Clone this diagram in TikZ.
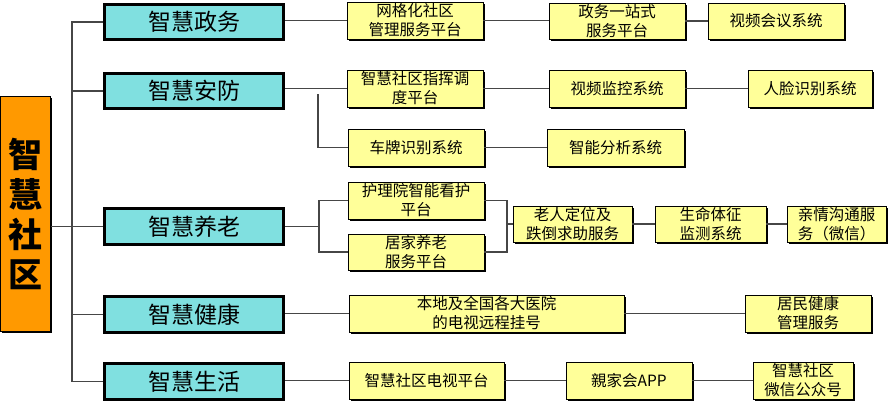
\documentclass[tikz,border=0pt]{standalone}
\usepackage{fontspec}
\usetikzlibrary{shadows}
\newfontfamily\cjk{Noto Sans CJK SC}
\definecolor{rootorange}{RGB}{255,153,0}
\definecolor{lvcyan}{RGB}{128,224,224}
\definecolor{lvyellow}{RGB}{255,255,153}
\definecolor{linkgray}{RGB}{70,70,70}
\tikzset{
  rootbox/.style={draw=black, line width=1pt, fill=rootorange, inner sep=0pt,
    drop shadow={shadow xshift=1.8pt, shadow yshift=-1.8pt, fill=black, opacity=1},
    font=\cjk\bfseries\fontsize{34}{40}\selectfont, align=center},
  catbox/.style={draw=black, line width=3pt, fill=lvcyan, inner sep=0pt,
    minimum width=179pt, minimum height=35.5pt,
    font=\cjk\fontsize{23}{26}\selectfont},
  itembox/.style={draw=black, line width=0.9pt, fill=lvyellow, inner sep=0pt,
    drop shadow={shadow xshift=1.6pt, shadow yshift=-1.6pt, fill=black, opacity=1},
    font=\cjk\fontsize{15.5}{19}\selectfont, align=center},
  link/.style={draw=linkgray, line width=1.1pt},
}
\begin{document}
\begin{tikzpicture}[x=1pt, y=-1pt]
\useasboundingbox (0,0) rectangle (890,402);
% root
\node[rootbox, minimum width=49.5pt, minimum height=234.5pt] (root) at (25.25,213.75) {智\\慧\\社\\区};
% categories
\node[catbox] (b1) at (194,22) {智慧政务};
\node[catbox] (b2) at (194,91) {智慧安防};
\node[catbox] (b3) at (194,226.5) {智慧养老};
\node[catbox] (b4) at (194,314.5) {智慧健康};
\node[catbox] (b5) at (194,381.5) {智慧生活};
% row 1
\node[itembox, minimum width=136pt, minimum height=37pt] (g1) at (415,20.5) {网格化社区\\管理服务平台};
\node[itembox, minimum width=136pt, minimum height=36pt] (g2) at (617,21) {政务一站式\\服务平台};
\node[itembox, minimum width=136pt, minimum height=36pt] (g3) at (776,21) {视频会议系统};
% row 2
\node[itembox, minimum width=136pt, minimum height=37pt] (a1) at (415,88.5) {智慧社区指挥调\\度平台};
\node[itembox, minimum width=136pt, minimum height=37pt] (a2) at (617,88.5) {视频监控系统};
\node[itembox, minimum width=124pt, minimum height=37pt] (a3) at (810,88.5) {人脸识别系统};
\node[itembox, minimum width=136pt, minimum height=37pt] (a4) at (416,147.5) {车牌识别系统};
\node[itembox, minimum width=137pt, minimum height=37pt] (a5) at (615.5,147.5) {智能分析系统};
% row 3
\node[itembox, minimum width=136pt, minimum height=37pt] (y1) at (416,200.5) {护理院智能看护\\平台};
\node[itembox, minimum width=136pt, minimum height=36pt] (y2) at (416,252) {居家养老\\服务平台};
\node[itembox, minimum width=119pt, minimum height=36pt] (y3) at (572.5,224) {老人定位及\\跌倒求助服务};
\node[itembox, minimum width=111pt, minimum height=36pt] (y4) at (710.5,224) {生命体征\\监测系统};
\node[itembox, minimum width=99pt, minimum height=36pt] (y5) at (836.5,224) {亲情沟通服\\务（微信）};
% row 4
\node[itembox, minimum width=275pt, minimum height=37pt] (j1) at (486.5,313.5) {本地及全国各大医院\\的电视远程挂号};
\node[itembox, minimum width=126pt, minimum height=37pt] (j2) at (808,313.5) {居民健康\\管理服务};
% row 5
\node[itembox, minimum width=155pt, minimum height=37pt] (s1) at (426.5,380.5) {智慧社区电视平台};
\node[itembox, minimum width=126pt, minimum height=37pt] (s2) at (629,380.5) {親家会APP};
\node[itembox, minimum width=100pt, minimum height=37pt] (s3) at (803,380.5) {智慧社区\\微信公众号};
% trunk
\coordinate (tx) at (72,0);
\draw[link] (root.east |- b3.west) -- (b3.west);
\draw[link] (b1.west) -- (b1.west -| tx) -- (b5.west -| tx) -- (b5.west);
\draw[link] (b2.west -| tx) -- (b2.west);
\draw[link] (b4.west -| tx) -- (b4.west);
% row 1 links
\draw[link] (b1.east |- g1.west) -- (g1.west);
\draw[link] (g1.east) -- (g1.east -| g2.west);
\draw[link] (g2.east) -- (g3.west);
% row 2 links
\draw[link] (b2.east |- a1.west) -- (a1.west);
\draw[link] (a1.east) -- (a2.west);
\draw[link] (a2.east) -- (a3.west);
\coordinate (af) at (318,94);
\draw[link] (af) |- (a4.west);
\draw[link] (a4.east) -- (a5.west);
% row 3 links
\coordinate (lf) at (319,0);
\coordinate (rf) at (507,0);
\draw[link] (b3.east) -- (b3.east -| lf);
\draw[link] (y1.west) -| (lf |- y2.west) -- (y2.west);
\draw[link] (y1.east) -| (rf |- y2.east) -- (y2.east);
\draw[link] (rf |- y3.west) -- (y3.west);
\draw[link] (y3.east) -- (y4.west);
\draw[link] (y4.east) -- (y5.west);
% row 4 links
\draw[link] (b4.east |- j1.west) -- (j1.west);
\draw[link] (j1.east) -- (j2.west);
% row 5 links
\draw[link] (b5.east |- s1.west) -- (s1.west);
\draw[link] (s1.east) -- (s2.west);
\draw[link] (s2.east) -- (s3.west);
\end{tikzpicture}
\end{document}
